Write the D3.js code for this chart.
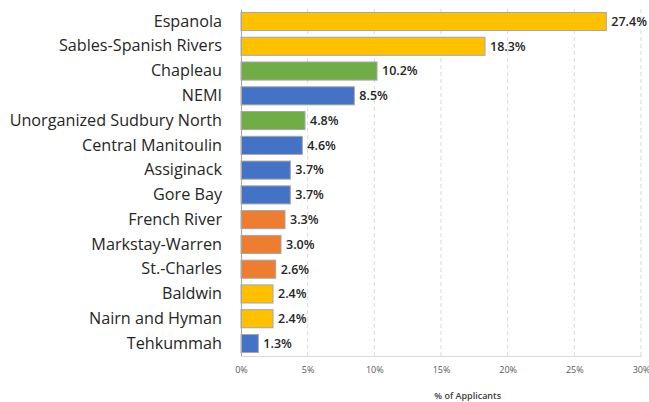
<!DOCTYPE html>
<html lang="en">
<head>
  <meta charset="UTF-8">
  <title>applicants</title>
  <script src="https://d3js.org/d3.v7.min.js"></script>
  <style>
    body { margin: 0; background: #fff; }
    svg { display: block; font-family: "Open Sans", "Noto Sans", sans-serif; }
  </style>
</head>
<body>
  <svg id="chart" width="649" height="402"></svg>
  <script>
    const towns = ["Espanola", "Sables-Spanish Rivers", "Chapleau", "NEMI", "Unorganized Sudbury North",
      "Central Manitoulin", "Assiginack", "Gore Bay", "French River", "Markstay-Warren",
      "St.-Charles", "Baldwin", "Nairn and Hyman", "Tehkummah"];
    const pct = [27.4, 18.3, 10.2, 8.5, 4.8, 4.6, 3.7, 3.7, 3.3, 3.0, 2.6, 2.4, 2.4, 1.3];
    const group = ["y", "y", "g", "b", "g", "b", "b", "b", "o", "o", "o", "y", "y", "b"];
    const xTicks = [0, 5, 10, 15, 20, 25, 30];

    const colors = { y: "#FFC000", g: "#70AD47", b: "#4472C4", o: "#ED7D31" };

    const svg = d3.select("#chart");
    const margin = { top: 9, right: 8, bottom: 46, left: 241 };
    const width = +svg.attr("width");
    const height = +svg.attr("height");
    const chartWidth = width - margin.left - margin.right;
    const chartHeight = height - margin.top - margin.bottom;

    const data = towns.map((t, i) => ({ town: t, value: pct[i], group: group[i] }));

    const x = d3.scaleLinear().domain([0, 30]).range([0, 400]);
    const y = d3.scaleBand().domain(towns).range([0, chartHeight]).paddingInner(0.27).paddingOuter(0.14);

    const chart = svg.append("g")
      .attr("transform", `translate(${margin.left},${margin.top})`);

    // dashed grid
    chart.selectAll("line.grid").data(xTicks.slice(1))
      .join("line")
      .attr("class", "grid")
      .attr("x1", d => x(d)).attr("x2", d => x(d))
      .attr("y1", 0).attr("y2", chartHeight)
      .attr("stroke", "#d9d9d9")
      .attr("stroke-dasharray", "4,3");

    // bars
    chart.selectAll("rect.bar").data(data)
      .join("rect")
      .attr("class", "bar")
      .attr("x", 0)
      .attr("y", d => y(d.town))
      .attr("width", d => x(d.value))
      .attr("height", y.bandwidth())
      .attr("fill", d => colors[d.group])
      .attr("stroke", "#a6a6a6")
      .attr("stroke-width", 1);

    // value labels
    chart.selectAll("text.val").data(data)
      .join("text")
      .attr("class", "val")
      .attr("x", d => x(d.value) + 5)
      .attr("y", d => y(d.town) + y.bandwidth() / 2)
      .attr("dy", "0.35em")
      .attr("font-size", 12.5)
      .attr("font-weight", 600)
      .attr("fill", "#262626")
      .text(d => d.value.toFixed(1) + "%");

    // category axis
    const yAxis = chart.append("g")
      .call(d3.axisLeft(y).tickSize(0).tickPadding(19));
    yAxis.select(".domain").attr("stroke", "#a6a6a6");
    yAxis.selectAll("text")
      .attr("font-family", "'Open Sans', sans-serif")
      .attr("font-size", 16.2)
      .attr("fill", "#262626");

    // x axis
    const xAxis = chart.append("g")
      .attr("transform", `translate(0,${chartHeight})`)
      .call(d3.axisBottom(x).tickValues(xTicks).tickSize(0).tickPadding(11).tickFormat(d => d + "%"));
    xAxis.select(".domain").attr("stroke", "#d9d9d9");
    xAxis.selectAll("text")
      .attr("font-family", "'Open Sans', sans-serif")
      .attr("font-size", 9)
      .attr("fill", "#595959");

    svg.append("text")
      .attr("x", margin.left + x(17))
      .attr("y", 399)
      .attr("text-anchor", "middle")
      .attr("font-size", 9)
      .attr("font-weight", 600)
      .attr("fill", "#404040")
      .text("% of Applicants");
  </script>
</body>
</html>
